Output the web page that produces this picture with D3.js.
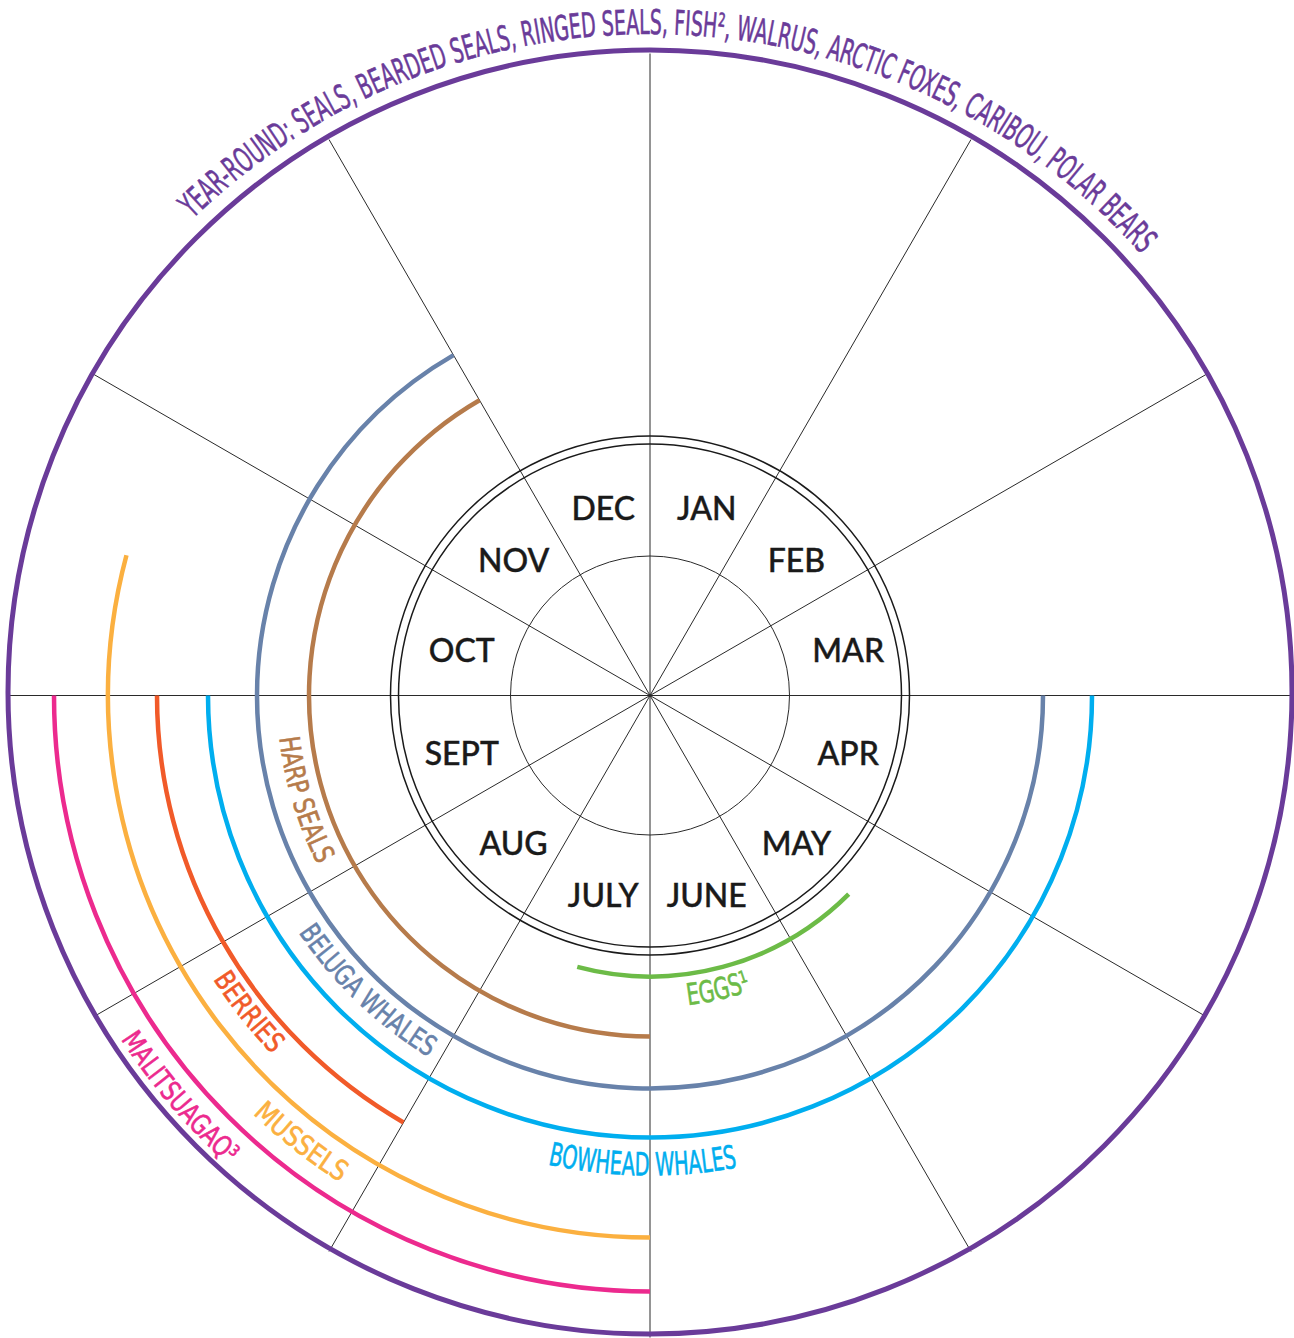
<!DOCTYPE html>
<html><head><meta charset="utf-8">
<script src="https://cdn.jsdelivr.net/npm/d3@7/dist/d3.min.js"></script>
<style>html,body{margin:0;padding:0;background:#fff;} svg{display:block;}</style>
</head><body><svg id="chart" width="1294" height="1338"></svg>
<script>
// ---------------- DATA ----------------
const months = ["JAN","FEB","MAR","APR","MAY","JUNE","JULY","AUG","SEPT","OCT","NOV","DEC"];
const seriesNames = ["EGGS¹","HARP SEALS","BELUGA WHALES","BOWHEAD WHALES","BERRIES","MUSSELS","MALITSUAGAQ³",
  "YEAR-ROUND: SEALS, BEARDED SEALS, RINGED SEALS, FISH², WALRUS, ARCTIC FOXES, CARIBOU, POLAR BEARS"];
// season in month units (0 = start of January, 12 = end of December)
const seasonStart = [4.5, 6, 3, 3, 7, 6, 6, 0];
const seasonEnd   = [6.5, 11, 11, 9, 9, 9.5, 9, 12];

// ---------------- LAYOUT ----------------
const W = 1294, H = 1338;
const cx = 650, cy = 695.5;
const outerCy = 692;           // year-round ring centre
const svg = d3.select("#chart");
svg.append("rect").attr("width", W).attr("height", H).attr("fill", "#fff");

const angle = d3.scaleLinear().domain([0, 12]).range([0, 2 * Math.PI]);
const radius = d3.scaleOrdinal().domain(seriesNames).range([281, 341, 393, 442, 493, 542, 596, 642]);
const color = d3.scaleOrdinal().domain(seriesNames)
  .range(["#6cbb47", "#b67b4b", "#6882aa", "#00aeef", "#f15a29", "#fbb040", "#ec2a8e", "#6a3b99"]);

const series = seriesNames.map((n, i) => ({name: n, start: seasonStart[i], end: seasonEnd[i]}));
const yearRound = series[series.length - 1];
const seasonal = series.slice(0, -1);

function arcPath(x, y, r, a0, a1, ccw) {
  const p = d3.path();
  p.arc(x, y, r, a0 - Math.PI / 2, a1 - Math.PI / 2, ccw);
  return p.toString();
}

// spokes (month boundaries)
const spokeR = radius(yearRound.name);
svg.append("g").selectAll("line").data(d3.range(12)).join("line")
  .attr("x1", cx).attr("y1", cy)
  .attr("x2", d => cx + spokeR * Math.sin(angle(d)))
  .attr("y2", d => cy - spokeR * Math.cos(angle(d)))
  .attr("stroke", "#2a2a2a").attr("stroke-width", 1);

// inner circles
svg.append("circle").attr("cx", cx).attr("cy", cy).attr("r", 139.5)
  .attr("fill", "none").attr("stroke", "#2a2a2a").attr("stroke-width", 1);
[251.5, 259.5].forEach(r => svg.append("circle").attr("cx", cx).attr("cy", cy).attr("r", r)
  .attr("fill", "none").attr("stroke", "#1a1a1a").attr("stroke-width", 1.5));

// month labels
svg.append("g").selectAll("text").data(months).join("text")
  .attr("x", (d, i) => cx + 5 + 200 * Math.sin(angle(i + 0.5)))
  .attr("y", (d, i) => cy + 5.5 - 200 * Math.cos(angle(i + 0.5)))
  .attr("text-anchor", "middle").attr("dominant-baseline", "central")
  .attr("font-family", "Lato, 'Noto Sans', sans-serif").attr("font-weight", 500)
  .attr("font-size", 32).attr("fill", "#1a1a1a")
  .attr("stroke", "#1a1a1a").attr("stroke-width", 0.4)
  .text(d => d);

// year-round ring
svg.append("circle").attr("cx", cx).attr("cy", outerCy).attr("r", radius(yearRound.name))
  .attr("fill", "none").attr("stroke", color(yearRound.name)).attr("stroke-width", 5);

// seasonal arcs
svg.append("g").selectAll("path").data(seasonal).join("path")
  .attr("d", d => arcPath(cx, cy, radius(d.name), angle(d.start), angle(d.end), false))
  .attr("fill", "none").attr("stroke", d => color(d.name)).attr("stroke-width", 4.5)
  .attr("stroke-linecap", "butt");

// label placement (degrees clockwise from top, baseline radius, font size)
const labelLayout = {
  "EGGS¹":          {r: 312, a0: 173, a1: 161, size: 30},
  "HARP SEALS":     {r: 373, a0: 263.5, a1: 243, size: 28},
  "BELUGA WHALES":  {r: 424, a0: 236, a1: 211.5, size: 28},
  "BOWHEAD WHALES": {r: 480, a0: 192.3, a1: 169.5, size: 32},
  "BERRIES":        {r: 521, a0: 237, a1: 226.5, size: 28},
  "MUSSELS":        {r: 577, a0: 223.5, a1: 212.5, size: 28},
  "MALITSUAGAQ³":   {r: 631, a0: 237, a1: 222, size: 28}
};
const rad = d => d * Math.PI / 180;
const defs = svg.append("defs");
const condensed = "'Liberation Sans Narrow', 'DejaVu Sans Condensed', 'Arial Narrow', sans-serif";

seasonal.forEach((d, i) => {
  const L = labelLayout[d.name];
  const id = "lp" + i;
  defs.append("path").attr("id", id)
    .attr("d", arcPath(cx, cy, L.r, rad(L.a0), rad(L.a1), true));
  svg.append("text")
    .attr("font-family", condensed).attr("font-size", L.size).attr("fill", color(d.name))
    .attr("stroke", color(d.name)).attr("stroke-width", 0.6)
    .append("textPath").attr("href", "#" + id)
    .attr("startOffset", "50%").attr("text-anchor", "middle")
    .attr("textLength", L.r * rad(L.a0 - L.a1)).attr("lengthAdjust", "spacingAndGlyphs")
    .text(d.name);
});

// year-round label on the outside, clockwise
{
  const r = 658, a0 = -44, a1 = 48.3;
  defs.append("path").attr("id", "lpYear")
    .attr("d", arcPath(cx, outerCy, r, rad(a0), rad(a1), false));
  svg.append("text")
    .attr("font-family", condensed).attr("font-size", 34).attr("fill", color(yearRound.name))
    .attr("stroke", color(yearRound.name)).attr("stroke-width", 0.6)
    .append("textPath").attr("href", "#lpYear")
    .attr("startOffset", "50%").attr("text-anchor", "middle")
    .attr("textLength", r * rad(a1 - a0)).attr("lengthAdjust", "spacingAndGlyphs")
    .text(yearRound.name);
}
</script>
</body></html>
